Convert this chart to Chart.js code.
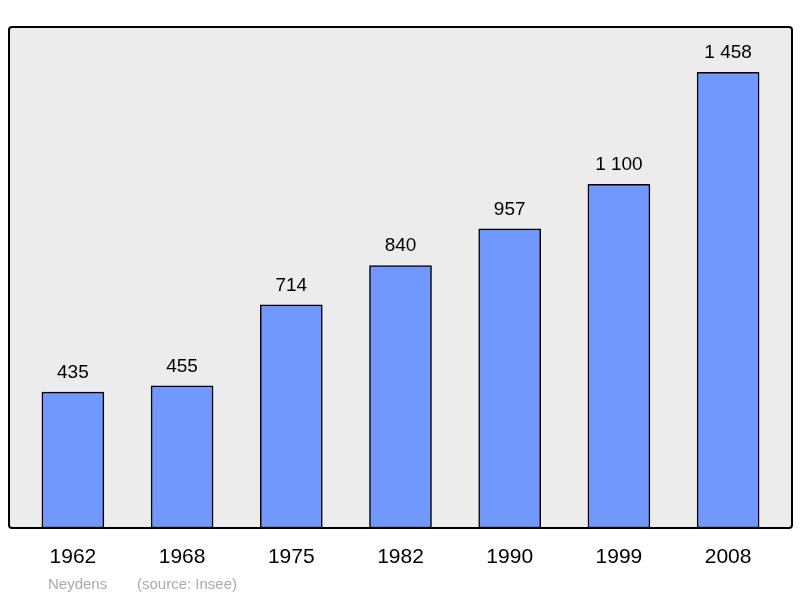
<!DOCTYPE html>
<html>
<head>
<meta charset="utf-8">
<script src="https://cdn.jsdelivr.net/npm/chart.js@4"></script>
<style>
  html, body { margin: 0; padding: 0; background: #fff; }
  #wrap { width: 800px; height: 598px; }
</style>
</head>
<body>
<div id="wrap"><canvas id="graph"></canvas></div>
<script>
/* Données */
var annees = ['1962', '1968', '1975', '1982', '1990', '1999', '2008'];
var population = [435, 455, 714, 840, 957, 1100, 1458];
var etiquettes = ['435', '455', '714', '840', '957', '1 100', '1 458'];
var commune = 'Neydens';
var source = '(source: Insee)';

var points = population.map(function (v, i) { return { x: i, y: v }; });

/* Cadre, étiquettes et pied de page */
var decor = {
  id: 'decor',
  beforeDatasetsDraw: function (chart) {
    var a = chart.chartArea, ctx = chart.ctx;
    ctx.save();
    ctx.fillStyle = '#ececec';
    ctx.fillRect(a.left, a.top, a.right - a.left, a.bottom - a.top);
    ctx.restore();
  },
  afterDatasetsDraw: function (chart) {
    var a = chart.chartArea, ctx = chart.ctx;
    var xs = chart.scales.x, ys = chart.scales.y;
    ctx.save();
    ctx.strokeStyle = '#000';
    ctx.lineWidth = 2;
    ctx.beginPath();
    ctx.roundRect(a.left, a.top, a.right - a.left, a.bottom - a.top, 3);
    ctx.stroke();
    ctx.fillStyle = '#000';
    ctx.textAlign = 'center';
    ctx.textBaseline = 'alphabetic';
    ctx.font = '19px "Liberation Sans", Arial, sans-serif';
    for (var i = 0; i < population.length; i++) {
      var x = xs.getPixelForValue(i);
      ctx.fillText(etiquettes[i], x, ys.getPixelForValue(population[i]) - 14);
    }
    ctx.font = '21px "Liberation Sans", Arial, sans-serif';
    for (var j = 0; j < annees.length; j++) {
      ctx.fillText(annees[j], xs.getPixelForValue(j), 563);
    }
    ctx.fillStyle = '#aaaaaa';
    ctx.textAlign = 'left';
    ctx.font = '15px "Liberation Sans", Arial, sans-serif';
    ctx.fillText(commune, 48, 589);
    ctx.fillText(source, 137, 589);
    ctx.restore();
  }
};

new Chart(document.getElementById('graph').getContext('2d'), {
  type: 'bar',
  data: {
    datasets: [{
      data: points,
      backgroundColor: '#7098ff',
      borderColor: '#000',
      borderWidth: 1.5,
      borderSkipped: false,
      barThickness: 62
    }]
  },
  options: {
    responsive: true,
    maintainAspectRatio: false,
    animation: false,
    layout: { padding: { left: 9, right: 8, top: 27, bottom: 70 } },
    plugins: { legend: { display: false }, tooltip: { enabled: false } },
    scales: {
      x: { type: 'linear', min: -0.585, max: 6.585, offset: false, display: false },
      y: { min: 0, max: 1603, display: false }
    }
  },
  plugins: [decor]
});
</script>
</body>
</html>
